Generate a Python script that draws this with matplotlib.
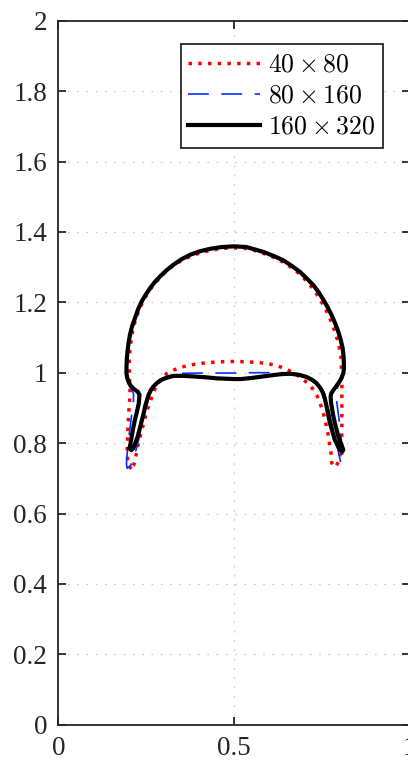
import matplotlib
matplotlib.use("Agg")
import matplotlib.pyplot as plt

plt.rcParams['mathtext.fontset'] = 'cm'
plt.rcParams['lines.scale_dashes'] = False

# ---- data: closed interface contours (x, y) ----
# 40 x 80 grid
red_x = [0.208, 0.201, 0.197, 0.196, 0.197, 0.198, 0.200, 0.203, 0.204, 0.203, 0.202, 0.202, 0.204,
         0.207, 0.211, 0.217, 0.225, 0.235, 0.246, 0.259, 0.273, 0.289, 0.307, 0.327, 0.351, 0.377,
         0.405, 0.434, 0.467, 0.500, 0.535, 0.560, 0.584, 0.612, 0.640, 0.663, 0.685, 0.704, 0.721,
         0.736, 0.749, 0.761, 0.771, 0.781, 0.789, 0.796, 0.801, 0.805, 0.806, 0.807, 0.807, 0.807,
         0.807, 0.807, 0.806, 0.803, 0.798, 0.792, 0.785, 0.780, 0.778, 0.776, 0.772, 0.769, 0.764,
         0.759, 0.753, 0.745, 0.737, 0.7265, 0.713, 0.700, 0.6875, 0.670, 0.650, 0.625, 0.600, 0.570,
         0.535, 0.500, 0.465, 0.430, 0.400, 0.372, 0.347, 0.327, 0.309, 0.293, 0.280, 0.269, 0.260,
         0.253, 0.245, 0.238, 0.233, 0.228, 0.223, 0.219, 0.214, 0.208]
red_y = [0.727, 0.735, 0.750, 0.775, 0.800, 0.840, 0.880, 0.920, 0.950, 0.980, 1.010, 1.040, 1.065,
         1.090, 1.115, 1.140, 1.165, 1.190, 1.212, 1.233, 1.252, 1.270, 1.288, 1.304, 1.319, 1.331,
         1.341, 1.348, 1.353, 1.355, 1.353, 1.347, 1.339, 1.328, 1.314, 1.299, 1.282, 1.263, 1.243,
         1.222, 1.201, 1.180, 1.158, 1.135, 1.111, 1.088, 1.064, 1.040, 1.010, 0.980, 0.950, 0.920,
         0.880, 0.840, 0.800, 0.770, 0.748, 0.737, 0.732, 0.740, 0.745, 0.771, 0.795, 0.819, 0.843,
         0.866, 0.890, 0.913, 0.933, 0.951, 0.967, 0.978, 0.988, 0.998, 1.010, 1.019, 1.025, 1.029,
         1.031, 1.032, 1.031, 1.029, 1.026, 1.021, 1.015, 1.007, 0.998, 0.983, 0.965, 0.940, 0.913,
         0.894, 0.865, 0.837, 0.818, 0.800, 0.775, 0.752, 0.736, 0.727]

# 80 x 160 grid
blue_x = [0.196, 0.194, 0.196, 0.200, 0.205, 0.210, 0.214, 0.214, 0.208, 0.200, 0.196, 0.194, 0.194,
          0.195, 0.197, 0.200, 0.204, 0.210, 0.2185, 0.227, 0.2375, 0.249, 0.2617, 0.275, 0.290, 0.308,
          0.328, 0.350, 0.375, 0.403, 0.432, 0.465, 0.500, 0.535, 0.560, 0.584, 0.612, 0.641, 0.665,
          0.688, 0.708, 0.7265, 0.742, 0.755, 0.767, 0.778, 0.788, 0.797, 0.804, 0.8093, 0.812, 0.813,
          0.811, 0.806, 0.798, 0.792, 0.790, 0.792, 0.796, 0.8015, 0.806, 0.810, 0.811, 0.808, 0.803,
          0.797, 0.790, 0.783, 0.776, 0.770, 0.764, 0.756, 0.744, 0.728, 0.708, 0.680, 0.640, 0.600,
          0.550, 0.500, 0.450, 0.400, 0.350, 0.320, 0.298, 0.280, 0.266, 0.256, 0.248, 0.240, 0.232,
          0.224, 0.215, 0.206, 0.196]
blue_y = [0.728, 0.740, 0.770, 0.810, 0.850, 0.890, 0.920, 0.940, 0.953, 0.966, 0.980, 0.998, 1.013,
          1.040, 1.061, 1.085, 1.108, 1.132, 1.156, 1.180, 1.203, 1.222, 1.241, 1.258, 1.274, 1.291,
          1.307, 1.322, 1.335, 1.345, 1.352, 1.357, 1.359, 1.357, 1.350, 1.343, 1.332, 1.319, 1.303,
          1.286, 1.267, 1.248, 1.227, 1.206, 1.185, 1.163, 1.140, 1.116, 1.092, 1.069, 1.045, 1.013,
          0.998, 0.982, 0.966, 0.952, 0.941, 0.920, 0.890, 0.848, 0.800, 0.760, 0.743, 0.740, 0.748,
          0.775, 0.805, 0.835, 0.865, 0.895, 0.922, 0.944, 0.963, 0.978, 0.990, 0.997, 0.999, 1.000,
          1.000, 0.999, 0.999, 0.999, 0.998, 0.994, 0.985, 0.970, 0.950, 0.925, 0.895, 0.860, 0.825,
          0.790, 0.760, 0.737, 0.728]

# 160 x 320 grid
black_x = [0.203, 0.206, 0.209, 0.213, 0.218, 0.224, 0.229, 0.231, 0.226, 0.220, 0.214, 0.206, 0.200,
           0.196, 0.194, 0.194, 0.195, 0.197, 0.200, 0.204, 0.210, 0.2185, 0.227, 0.2375, 0.249, 0.2617,
           0.275, 0.290, 0.308, 0.328, 0.350, 0.375, 0.403, 0.432, 0.465, 0.500, 0.535, 0.560, 0.584,
           0.612, 0.641, 0.665, 0.688, 0.708, 0.7265, 0.742, 0.755, 0.767, 0.778, 0.788, 0.797, 0.804,
           0.8093, 0.812, 0.813, 0.811, 0.805, 0.797, 0.790, 0.783, 0.777, 0.775, 0.776, 0.778, 0.782,
           0.787, 0.792, 0.797, 0.804, 0.811, 0.808, 0.801, 0.794, 0.787, 0.780, 0.773, 0.768, 0.7635,
           0.759, 0.754, 0.746, 0.735, 0.722, 0.7065, 0.685, 0.660, 0.635, 0.610, 0.580, 0.550, 0.520,
           0.500, 0.475, 0.450, 0.420, 0.390, 0.355, 0.328, 0.310, 0.294, 0.281, 0.271, 0.263, 0.257,
           0.252, 0.247, 0.243, 0.238, 0.232, 0.226, 0.220, 0.214, 0.208, 0.203]
black_y = [0.786, 0.802, 0.819, 0.842, 0.866, 0.890, 0.913, 0.937, 0.946, 0.950, 0.955, 0.963, 0.974,
           0.986, 0.998, 1.013, 1.040, 1.061, 1.085, 1.108, 1.132, 1.156, 1.180, 1.203, 1.222, 1.241,
           1.258, 1.274, 1.291, 1.307, 1.322, 1.335, 1.345, 1.352, 1.357, 1.359, 1.357, 1.350, 1.343,
           1.332, 1.319, 1.303, 1.286, 1.267, 1.248, 1.227, 1.206, 1.185, 1.163, 1.140, 1.116, 1.092,
           1.069, 1.045, 1.013, 0.998, 0.983, 0.970, 0.960, 0.951, 0.942, 0.933, 0.915, 0.904, 0.880,
           0.857, 0.838, 0.819, 0.800, 0.781, 0.776, 0.781, 0.795, 0.809, 0.833, 0.857, 0.880, 0.904,
           0.924, 0.941, 0.956, 0.970, 0.980, 0.988, 0.994, 0.997, 0.996, 0.993, 0.989, 0.985, 0.982,
           0.982, 0.983, 0.984, 0.987, 0.989, 0.991, 0.991, 0.986, 0.980, 0.971, 0.961, 0.950, 0.937,
           0.921, 0.904, 0.885, 0.866, 0.842, 0.819, 0.802, 0.786, 0.780, 0.786]

labels = [r'$40 \times 80$', r'$80 \times 160$', r'$160 \times 320$']
xticks = [0, 0.5, 1]
xtick_labels = ['0', '0.5', '1']
yticks = [0, 0.2, 0.4, 0.6, 0.8, 1, 1.2, 1.4, 1.6, 1.8, 2]
ytick_labels = ['0', '0.2', '0.4', '0.6', '0.8', '1', '1.2', '1.4', '1.6', '1.8', '2']

W, H = 408, 764
fig = plt.figure(figsize=(W / 100, H / 100), dpi=100)
left, right, top, bottom = 58.3, 409.7, 20.7, 724.7
ax = fig.add_axes([left / W, 1 - bottom / H, (right - left) / W, (bottom - top) / H])

ax.plot(red_x, red_y, color='#ff0000', lw=2.5, linestyle=(0, (2.5, 4.5)), label=labels[0])
ax.plot(blue_x, blue_y, color='#0033ff', lw=1.2, linestyle=(0, (15, 9)), label=labels[1])
ax.plot(black_x, black_y, color='black', lw=3.0, solid_joinstyle='round', label=labels[2])

ax.set_xlim(0, 1)
ax.set_ylim(0, 2)
ax.set_xticks(xticks)
ax.set_xticklabels(xtick_labels)
ax.set_yticks(yticks)
ax.set_yticklabels(ytick_labels)

ax.grid(True, color='#c8c8c8', lw=0.9, linestyle=(0, (1.2, 5.5)))
ax.set_axisbelow(True)

for s in ax.spines.values():
    s.set_color('#262626')
    s.set_linewidth(1.3)

ax.tick_params(direction='in', length=5.5, width=1.3, color='#262626',
               top=True, right=True, labelcolor='#262626', pad=8)
for lab in ax.get_xticklabels() + ax.get_yticklabels():
    lab.set_fontfamily('Liberation Serif')
    lab.set_fontsize(19.5)

leg = ax.legend(loc='upper left', bbox_to_anchor=(180.7 / W, 1 - 44 / H),
                bbox_transform=fig.transFigure, borderaxespad=0,
                fancybox=False, frameon=True, fontsize=18.5, handlelength=2.8,
                handletextpad=0.3, borderpad=0.3, labelspacing=0.2)
leg.get_frame().set_edgecolor('#262626')
leg.get_frame().set_linewidth(1.3)
leg.get_frame().set_alpha(1)

fig.savefig('out.png', dpi=100)
